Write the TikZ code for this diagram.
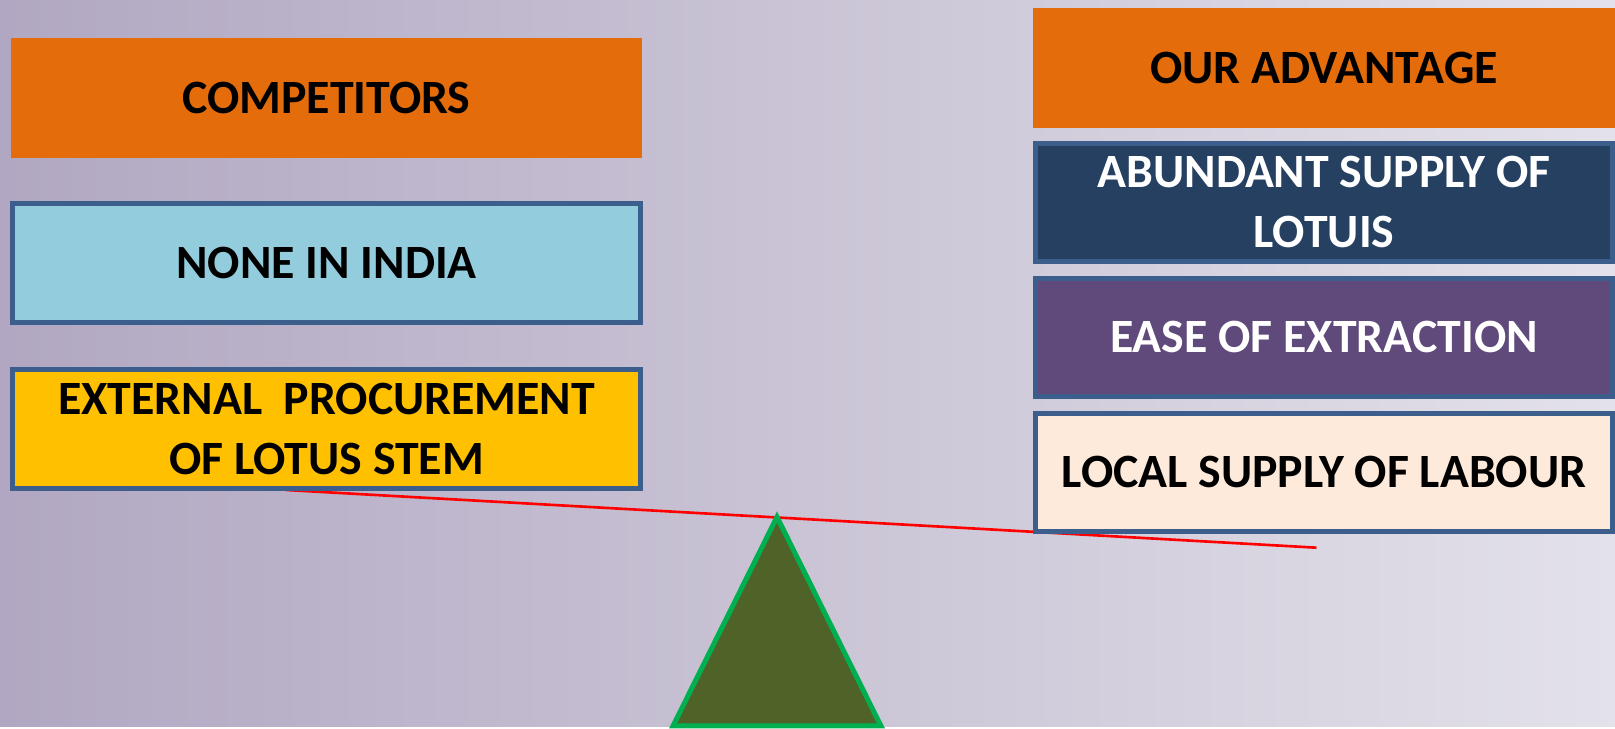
\documentclass[tikz,border=0pt]{standalone}
\usepackage{fontspec}
\setmainfont{Carlito}
\usetikzlibrary{positioning}
\definecolor{BackLeft}{HTML}{B1A7C2}
\definecolor{BackRight}{HTML}{E3E1E9}
\definecolor{HeadOrange}{HTML}{E46C0A}
\definecolor{BoxBorder}{HTML}{3B5E8C}
\definecolor{NoneBlue}{HTML}{93CDDD}
\definecolor{StemYellow}{HTML}{FFC000}
\definecolor{LotusNavy}{HTML}{254061}
\definecolor{EasePurple}{HTML}{604A7B}
\definecolor{LabourPeach}{HTML}{FDEADA}
\definecolor{BeamRed}{HTML}{FF0000}
\definecolor{PivotOlive}{HTML}{4F6228}
\definecolor{PivotGreen}{HTML}{00B050}

\begin{document}
\begin{tikzpicture}[
        node distance=0.42cm,
        boxfont/.style={font=\fontsize{13.6}{17}\selectfont\bfseries, align=center},
        headbox/.style={rectangle, boxfont, fill=HeadOrange, minimum height=1.2cm},
        leftbox/.style={rectangle, boxfont, draw=BoxBorder, line width=0.05cm, minimum width=6.28cm, minimum height=1.19cm},
        rightbox/.style={rectangle, boxfont, draw=BoxBorder, line width=0.05cm, minimum width=5.77cm, minimum height=1.18cm}
      ]
        % Background
        \fill[left color=BackLeft, right color=BackRight] (0,0) rectangle (16.15,-7.27);

        % Lever and pivot
        \coordinate (beamL) at (2.86,-4.90);
        \coordinate (beamR) at (13.165,-5.477);
        \draw[BeamRed, line width=0.75pt] (beamL) -- (beamR);
        \coordinate (apex) at (7.77,-5.17);
        \coordinate (baseL) at (6.73,-7.26);
        \coordinate (baseR) at (8.81,-7.26);
        \filldraw[fill=PivotOlive, draw=PivotGreen, line width=0.05cm] (apex) -- (baseR) -- (baseL) -- cycle;

        % Left column
        \node[headbox, minimum width=6.31cm] (competitors) at (3.265,-0.98) {COMPETITORS};
        \node[leftbox, fill=NoneBlue, below=of competitors] (none) {NONE IN INDIA};
        \node[leftbox, fill=StemYellow, below=of none] (external) {EXTERNAL\ \ PROCUREMENT\\OF LOTUS STEM};

        % Right column
        \node[headbox, minimum width=5.82cm] (advantage) at (13.24,-0.68) {OUR ADVANTAGE};
        \node[rightbox, fill=LotusNavy, text=white, below=0.12cm of advantage] (abundant) {ABUNDANT SUPPLY OF\\LOTUIS};
        \node[rightbox, fill=EasePurple, text=white, below=0.12cm of abundant] (ease) {EASE OF EXTRACTION};
        \node[rightbox, fill=LabourPeach, below=0.12cm of ease] (labour) {LOCAL SUPPLY OF LABOUR};

      \end{tikzpicture}
\end{document}
